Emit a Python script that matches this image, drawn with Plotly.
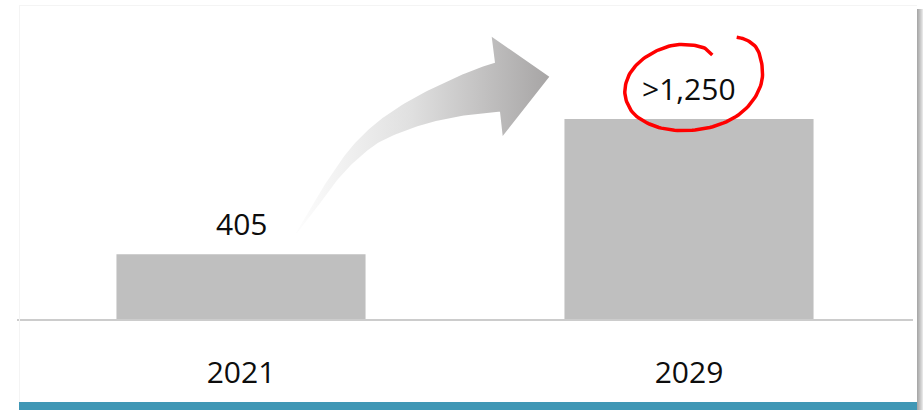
import numpy as np
import plotly.graph_objects as go

# ---- data ----
categories = ["2021", "2029"]
values = [405, 1250]
value_labels = ["405", ">1,250"]

W, H = 923, 410
FONT = "Open Sans"

# ---- decoration geometry (pixel coordinates on an overlay axis) ----
arrow_upper = [(296, 233), (313.3, 203.3), (333.3, 171.7), (353.3, 145), (380, 120),
               (413.3, 98.3), (446.7, 81.7), (473.3, 70), (495, 62.7)]
arrow_head = [(491.7, 36.7), (549.3, 76.7), (502.7, 136), (500, 111.7)]
arrow_lower = [(500, 111.7), (466.7, 115), (433.3, 121.7), (406.7, 130), (380, 141.7),
               (360, 156.7), (340, 176.7), (320, 203.3), (300, 230), (296, 233)]

circle_pts = [(712.3, 55), (705, 48.3), (691.7, 45), (675, 45), (658.3, 50), (641.7, 60),
              (630, 73.3), (625, 88.3), (626.7, 101.7), (635, 115), (651.7, 125),
              (671.7, 130), (695, 130), (718.3, 125), (738.3, 115), (753.3, 100),
              (761.7, 81.7), (761.7, 63.3), (756.7, 48.3), (746.7, 40), (736.7, 37.3)]


def catmull(pts, n=12):
    p = np.array(pts, dtype=float)
    p = np.vstack([p[0], p, p[-1]])
    out = []
    for i in range(1, len(p) - 2):
        p0, p1, p2, p3 = p[i - 1], p[i], p[i + 1], p[i + 2]
        for t in np.linspace(0, 1, n, endpoint=False):
            t2, t3 = t * t, t * t * t
            out.append(0.5 * ((2 * p1) + (-p0 + p2) * t + (2 * p0 - 5 * p1 + 4 * p2 - p3) * t2
                              + (-p0 + 3 * p1 - 3 * p2 + p3) * t3))
    out.append(p[-2])
    return np.array(out)


up = catmull(arrow_upper)
lo = catmull(arrow_lower)
hd = np.array(arrow_head)
arrow = np.vstack([up, hd, lo])

fig = go.Figure()

fig.add_trace(go.Bar(
    x=categories, y=values, marker=dict(color="#bfbfbf", line=dict(width=0)),
    hoverinfo="skip", xaxis="x", yaxis="y", showlegend=False,
))

fig.add_trace(go.Scatter(
    x=arrow[:, 0], y=arrow[:, 1], mode="lines", fill="toself",
    line=dict(width=0, color="rgba(0,0,0,0)"),
    fillgradient=dict(type="horizontal",
                      colorscale=[[0, "#fdfdfd"], [0.45, "#e0e0e0"], [1, "#a7a5a5"]]),
    hoverinfo="skip", xaxis="x2", yaxis="y2", showlegend=False,
))

c = catmull(circle_pts, 8)
fig.add_trace(go.Scatter(
    x=c[:, 0], y=c[:, 1], mode="lines", line=dict(color="#ff0000", width=3.5),
    hoverinfo="skip", xaxis="x2", yaxis="y2", showlegend=False,
))

# value labels (category index used for x on the category axis)
for i, (v, lab) in enumerate(zip(values, value_labels)):
    fig.add_annotation(x=i, y=v, xref="x", yref="y", text=lab, showarrow=False,
                       yanchor="middle", yshift=31,
                       font=dict(family=FONT, size=30, color="#0d0d0d"))

shapes = []
# faint card border
shapes.append(dict(type="line", xref="x2", yref="y2", x0=19, x1=917, y0=5.5, y1=5.5,
                   line=dict(color="#f4f4f4", width=1)))
shapes.append(dict(type="line", xref="x2", yref="y2", x0=19.5, x1=19.5, y0=5, y1=402,
                   line=dict(color="#f4f4f4", width=1)))
# teal bottom strip
shapes.append(dict(type="rect", xref="x2", yref="y2", x0=19, x1=917, y0=402, y1=410,
                   fillcolor="#4097b5", line=dict(width=0), layer="above"))
# right shadow
shadow = ["#a9a9a9", "#b3b3b3", "#bebebe", "#cacaca", "#d7d7d7", "#e6e6e6"]
for i, col in enumerate(shadow):
    shapes.append(dict(type="rect", xref="x2", yref="y2", x0=917 + i, x1=918 + i,
                       y0=9, y1=410, fillcolor=col, line=dict(width=0)))

base_px = 319
scale = 0.16  # px per unit
fig.update_layout(
    width=W, height=H,
    margin=dict(l=0, r=0, t=0, b=0),
    paper_bgcolor="white", plot_bgcolor="rgba(0,0,0,0)",
    bargap=0.444,
    shapes=shapes,
    xaxis=dict(domain=[17 / W, 913 / W], type="category", range=[-0.5, 1.5],
               showgrid=False, zeroline=False, showline=True, linecolor="#cccccc",
               linewidth=2, ticks="", ticklabelstandoff=26,
               tickfont=dict(family=FONT, size=30, color="#0d0d0d"), fixedrange=True,
               anchor="y"),
    yaxis=dict(domain=[(H - base_px) / H, 1], range=[0, base_px / scale],
               visible=False, fixedrange=True, anchor="x"),
    xaxis2=dict(domain=[0, 1], range=[0, W], visible=False, fixedrange=True, anchor="y2"),
    yaxis2=dict(domain=[0, 1], range=[H, 0], visible=False, fixedrange=True, anchor="x2"),
    showlegend=False,
)

fig.write_html("out.html", config={"displayModeBar": False})
